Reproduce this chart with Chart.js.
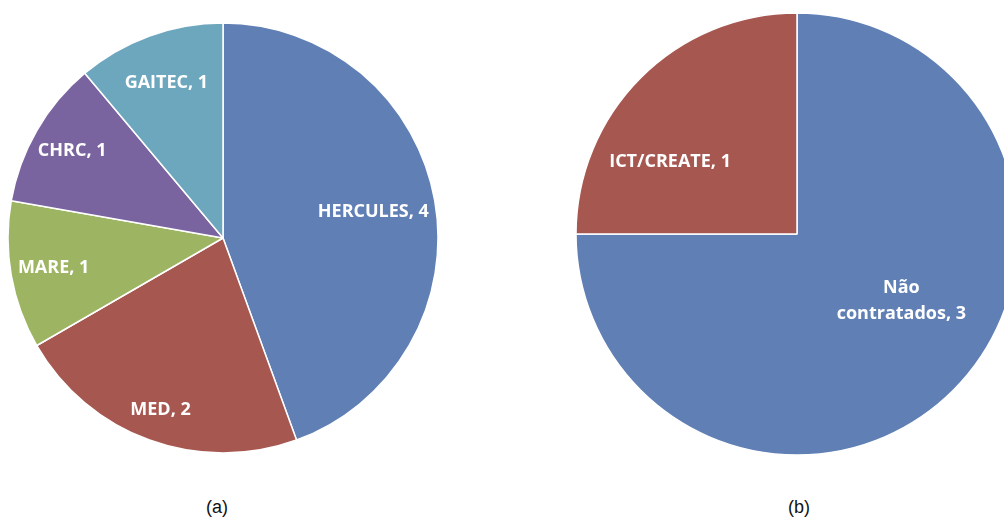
<!DOCTYPE html>
<html>
<head>
<meta charset="utf-8">
<script src="https://cdn.jsdelivr.net/npm/chart.js@4.4.0/dist/chart.umd.min.js"></script>
<style>
  html, body { margin: 0; padding: 0; background: #fff; overflow: hidden; }
  body { width: 1004px; height: 518px; position: relative; }
  canvas { position: absolute; }
  .cap { position: absolute; top: 497px; width: 60px; text-align: center;
         font-family: "Liberation Sans", Arial, sans-serif; font-size: 18px; color: #111; }
</style>
</head>
<body>
<canvas id="pieA" width="446" height="476" style="left:0;top:0"></canvas>
<canvas id="pieB" width="446" height="468" style="left:574px;top:0"></canvas>
<div class="cap" style="left:187px">(a)</div>
<div class="cap" style="left:769px">(b)</div>
<script>
// dados (a)
const labelsA = ['HERCULES', 'MED', 'MARE', 'CHRC', 'GAITEC'];
const valuesA = [4, 2, 1, 1, 1];
const colorsA = ['#6080b5', '#a65750', '#9db462', '#7a64a0', '#6da7be'];

// dados (b)
const labelsB = ['Não contratados', 'ICT/CREATE'];
const valuesB = [3, 1];
const colorsB = ['#6080b5', '#a65750'];

// rotulos dentro das fatias (texto branco, negrito)
const sliceLabels = {
  id: 'sliceLabels',
  afterDatasetsDraw(chart, args, opts) {
    const ctx = chart.ctx;
    const meta = chart.getDatasetMeta(0);
    ctx.save();
    ctx.fillStyle = '#fff';
    ctx.font = 'bold 18px "Open Sans", "DejaVu Sans", sans-serif';
    ctx.textAlign = 'center';
    ctx.textBaseline = 'middle';
    meta.data.forEach((arc, i) => {
      const mid = (arc.startAngle + arc.endAngle) / 2 + (opts.shift[i] || 0) * Math.PI / 180;
      const r = arc.outerRadius * opts.frac[i];
      const x = arc.x + Math.cos(mid) * r;
      const y = arc.y + Math.sin(mid) * r;
      const lines = opts.lines[i];
      lines.forEach((t, k) => {
        ctx.fillText(t, x, y + (k - (lines.length - 1) / 2) * 26);
      });
    });
    ctx.restore();
  }
};

function makePie(id, labels, values, colors, radius, labelOpts) {
  return new Chart(document.getElementById(id), {
    type: 'pie',
    data: {
      labels: labels,
      datasets: [{ data: values, backgroundColor: colors, borderColor: '#fff', borderWidth: 1.5 }]
    },
    options: {
      responsive: false,
      animation: false,
      radius: radius,
      layout: { padding: 0 },
      plugins: {
        legend: { display: false },
        tooltip: { enabled: false },
        sliceLabels: labelOpts
      }
    },
    plugins: [sliceLabels]
  });
}

makePie('pieA', labelsA, valuesA, colorsA, 215, {
  frac: [0.71, 0.85, 0.80, 0.81, 0.77],
  shift: [0, 0, 0, 0, 0],
  lines: labelsA.map((l, i) => [l + ', ' + valuesA[i]])
});

makePie('pieB', labelsB, valuesB, colorsB, 221, {
  frac: [0.56, 0.66],
  shift: [-12.5, -15.5],
  lines: [['Não', 'contratados, ' + valuesB[0]], [labelsB[1] + ', ' + valuesB[1]]]
});
</script>
</body>
</html>
